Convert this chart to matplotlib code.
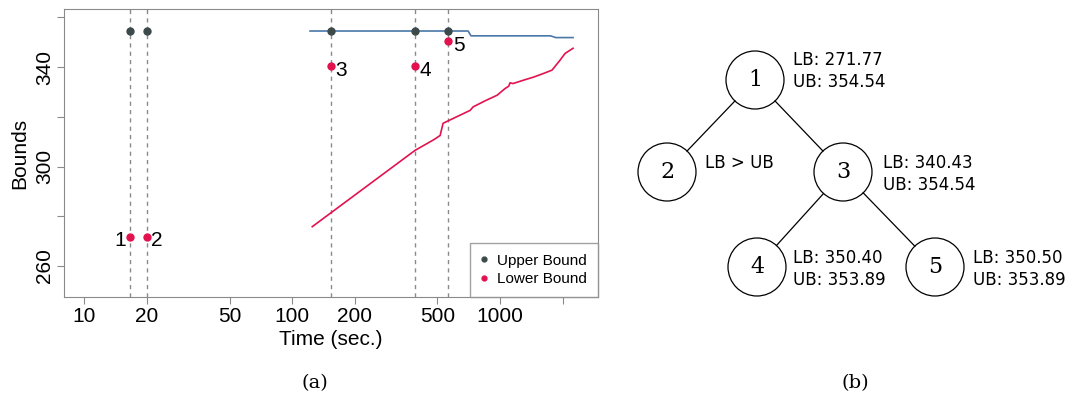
import matplotlib
matplotlib.use("Agg")
from matplotlib import pyplot as plt
from matplotlib.patches import Circle
import numpy as np

# ---- data (panel a) ----
node_ids = ["1", "2", "3", "4", "5"]
node_time = [16.6, 20.0, 154.0, 390.0, 565.0]
node_ub = [354.54, 354.54, 354.54, 354.54, 354.54]
node_lb = [271.77, 271.77, 340.43, 340.40, 350.50]

ub_time = [122, 702, 725, 1750, 1850, 2244]
ub_val = [354.54, 354.54, 352.6, 352.6, 351.9, 351.9]

lb_time = [125, 390, 480, 515, 532, 600, 718, 742, 850, 968, 1057,
           1100, 1117, 1155, 1290, 1450, 1611, 1778, 1850, 1943, 2053, 2244]
lb_val = [275.8, 306.5, 310.8, 312.5, 317.4, 319.5, 322.6, 324.0,
          326.5, 328.7, 331.4, 332.3, 333.7, 333.4, 334.7, 336.0, 337.4,
          338.8, 340.6, 342.8, 345.5, 347.6]

x_ticks = [10, 20, 50, 100, 200, 500, 1000, 2000]
x_labels = ["10", "20", "50", "100", "200", "500", "1000", ""]
y_ticks = [260, 280, 300, 320, 340, 360]
y_labels = ["260", "", "300", "", "340", ""]

# ---- data (panel b) ----
tree_nodes = ["1", "2", "3", "4", "5"]
tree_text = ["LB: 271.77\nUB: 354.54", "LB > UB", "LB: 340.43\nUB: 354.54",
             "LB: 350.40\nUB: 353.89", "LB: 350.50\nUB: 353.89"]
tree_edges = [(0, 1), (0, 2), (2, 3), (2, 4)]

W, H = 1068, 399
fig = plt.figure(figsize=(W / 100, H / 100), dpi=100)

sans = "Liberation Sans"
grid_col = "#8a8a8a"
ub_col = "#3d4a4a"
lb_col = "#e3124f"

def px_axes(x0, y0, x1, y1):
    return fig.add_axes([x0 / W, 1 - y1 / H, (x1 - x0) / W, (y1 - y0) / H])

ax = px_axes(64, 9, 598, 297)
ax.set_xscale("log")
ax.set_xlim(8.0, 2958)
ax.set_ylim(247.5, 363.4)

for t in node_time:
    ax.axvline(t, color=grid_col, lw=1, ls=(0, (3, 3)), zorder=1)

ax.plot(ub_time, ub_val, color="#4a78a8", lw=1.2, zorder=2)
ax.plot(lb_time, lb_val, color=lb_col, lw=1.2, zorder=2)

ax.plot(node_time, node_ub, ls="None", marker="o", ms=5, color=ub_col, zorder=3)
ax.plot(node_time, node_lb, ls="None", marker="o", ms=5, color=lb_col, zorder=3)

for i, (t, v) in enumerate(zip(node_time, node_lb)):
    if i == 0:
        ax.annotate(node_ids[i], (t, v), xytext=(-3, -3), textcoords="offset points",
                    ha="right", va="center", fontsize=15, family=sans)
    else:
        ax.annotate(node_ids[i], (t, v), xytext=(3, -3), textcoords="offset points",
                    ha="left", va="center", fontsize=15, family=sans)

ax.set_xticks(x_ticks)
ax.set_xticklabels(x_labels, fontsize=15, family=sans)
ax.xaxis.set_minor_locator(matplotlib.ticker.NullLocator())
ax.set_yticks(y_ticks)
ax.set_yticklabels(y_labels, fontsize=15, family=sans, rotation=90, va="center")
ax.tick_params(axis="both", direction="out", length=5, color=grid_col, pad=2)
for s in ax.spines.values():
    s.set_color(grid_col)
ax.set_xlabel("Time (sec.)", fontsize=15, family=sans, labelpad=3)
ax.set_ylabel("Bounds", fontsize=15, family=sans, labelpad=4)

h1, = ax.plot([], [], ls="None", marker="o", ms=3.5, color=ub_col)
h2, = ax.plot([], [], ls="None", marker="o", ms=3.5, color=lb_col)
leg = ax.legend([h1, h2], ["Upper Bound", "Lower Bound"], loc="lower right",
                prop={"family": sans, "size": 11}, frameon=True, fancybox=False,
                borderaxespad=0, handlelength=0.5, handletextpad=0.6,
                borderpad=0.7, labelspacing=0.3)
leg.get_frame().set_edgecolor(grid_col)
leg.get_frame().set_linewidth(1)

# ---- panel b: tree ----
ov = fig.add_axes([0, 0, 1, 1])
ov.set_xlim(0, W)
ov.set_ylim(H, 0)
ov.axis("off")

pos = [(755, 80), (667, 172), (843, 172), (757, 267), (935, 267)]
text_pos = [(793, 71), (705, 163), (883, 174), (793, 269), (973, 269)]
r = 29

for a, b in tree_edges:
    (x0, y0), (x1, y1) = pos[a], pos[b]
    d = np.hypot(x1 - x0, y1 - y0)
    ux, uy = (x1 - x0) / d, (y1 - y0) / d
    ov.plot([x0 + ux * r, x1 - ux * r], [y0 + uy * r, y1 - uy * r],
            color="black", lw=0.9)

for i, (x, y) in enumerate(pos):
    ov.add_patch(Circle((x, y), r, fill=False, ec="black", lw=0.9))
    ov.text(x, y, tree_nodes[i], ha="center", va="center", fontsize=16,
            family="DejaVu Serif")
    tx, ty = text_pos[i]
    ov.text(tx, ty, tree_text[i], ha="left", va="center", fontsize=12,
            family="DejaVu Sans", linespacing=1.25)

ov.text(315, 383, "(a)", ha="center", va="center", fontsize=14,
        family="DejaVu Serif")
ov.text(855, 383, "(b)", ha="center", va="center", fontsize=14,
        family="DejaVu Serif")

fig.savefig("out.png", dpi=100)
